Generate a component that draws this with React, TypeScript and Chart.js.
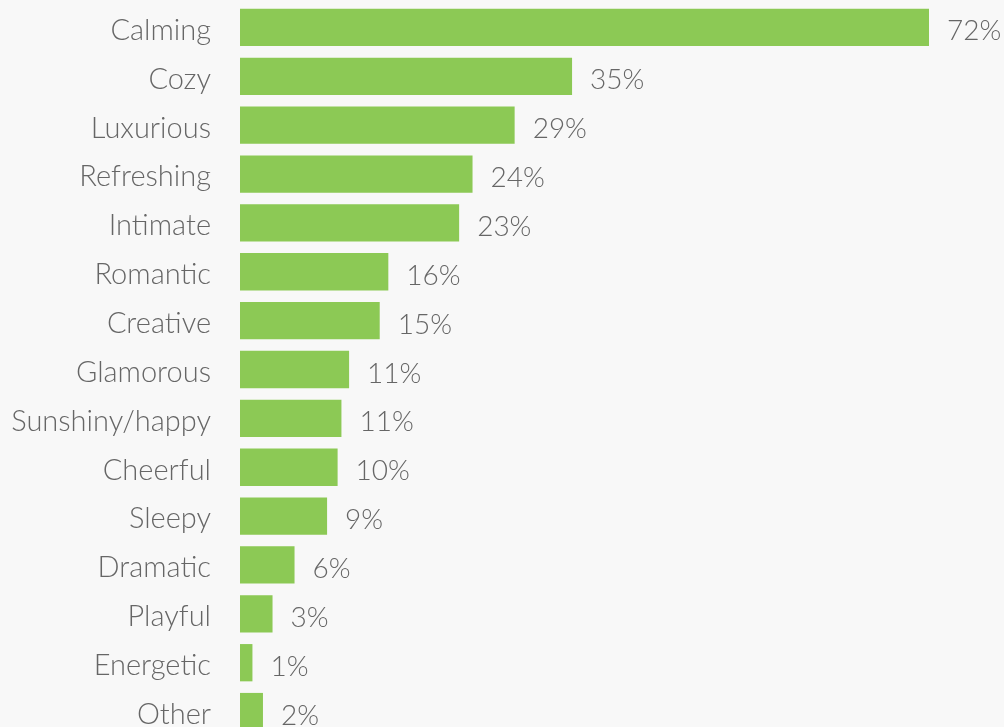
import React, { useEffect, useRef } from "react";
import { Chart, registerables } from "chart.js";

Chart.register(...registerables);

const categories = [
  "Calming", "Cozy", "Luxurious", "Refreshing", "Intimate", "Romantic", "Creative",
  "Glamorous", "Sunshiny/happy", "Cheerful", "Sleepy", "Dramatic", "Playful", "Energetic", "Other",
];
const values = [72, 34.7, 28.7, 24.3, 22.9, 15.5, 14.6, 11.4, 10.6, 10.2, 9.1, 5.7, 3.4, 1.3, 2.4];
const valueLabels = ["72%", "35%", "29%", "24%", "23%", "16%", "15%", "11%", "11%", "10%", "9%", "6%", "3%", "1%", "2%"];

const FONT_FAMILY = "Lato, 'Open Sans', sans-serif";
const TEXT_COLOR = "#666666";
const BAR_COLOR = "#8cc955";
const BG = "#f8f8f8";
const W = 1004;
const H = 740;

const valueLabelPlugin = {
  id: "valueLabels",
  afterDatasetsDraw(chart: any) {
    const ctx = chart.ctx;
    const meta = chart.getDatasetMeta(0);
    ctx.save();
    ctx.font = `300 28px ${FONT_FAMILY}`;
    ctx.fillStyle = TEXT_COLOR;
    ctx.textAlign = "left";
    ctx.textBaseline = "middle";
    meta.data.forEach((el: any, i: number) => {
      ctx.fillText(valueLabels[i], el.x + 18, el.y + 4);
    });
    ctx.restore();
  },
};

export default function App() {
  const ref = useRef<HTMLCanvasElement | null>(null);
  useEffect(() => {
    document.body.style.margin = "0";
    document.body.style.background = BG;
    const chart = new Chart(ref.current as HTMLCanvasElement, {
      type: "bar",
      data: {
        labels: categories,
        datasets: [
          {
            data: values,
            backgroundColor: BAR_COLOR,
            borderWidth: 0,
            barPercentage: 0.763,
            categoryPercentage: 1,
          },
        ],
      },
      options: {
        indexAxis: "y",
        animation: false,
        responsive: false,
        maintainAspectRatio: false,
        layout: { padding: { top: 3, bottom: 4, left: 0, right: 75 } },
        plugins: { legend: { display: false }, tooltip: { enabled: false } },
        scales: {
          x: { display: false, min: 0, max: 72 },
          y: {
            grid: { display: false, drawTicks: false },
            border: { display: false },
            ticks: {
              color: TEXT_COLOR,
              font: { family: FONT_FAMILY, size: 29, weight: "300" as any },
              padding: 29,
              labelOffset: 3,
            },
            afterFit(scale: any) {
              scale.width = 240;
              scale.paddingTop = 0;
              scale.paddingBottom = 0;
            },
          },
        },
      },
      plugins: [valueLabelPlugin],
    });
    return () => chart.destroy();
  }, []);
  return (
    <div style={{ position: "fixed", left: 0, top: 0, width: W, height: H, background: BG }}>
      <canvas ref={ref} width={W} height={H} style={{ width: W, height: H, display: "block" }} />
    </div>
  );
}
